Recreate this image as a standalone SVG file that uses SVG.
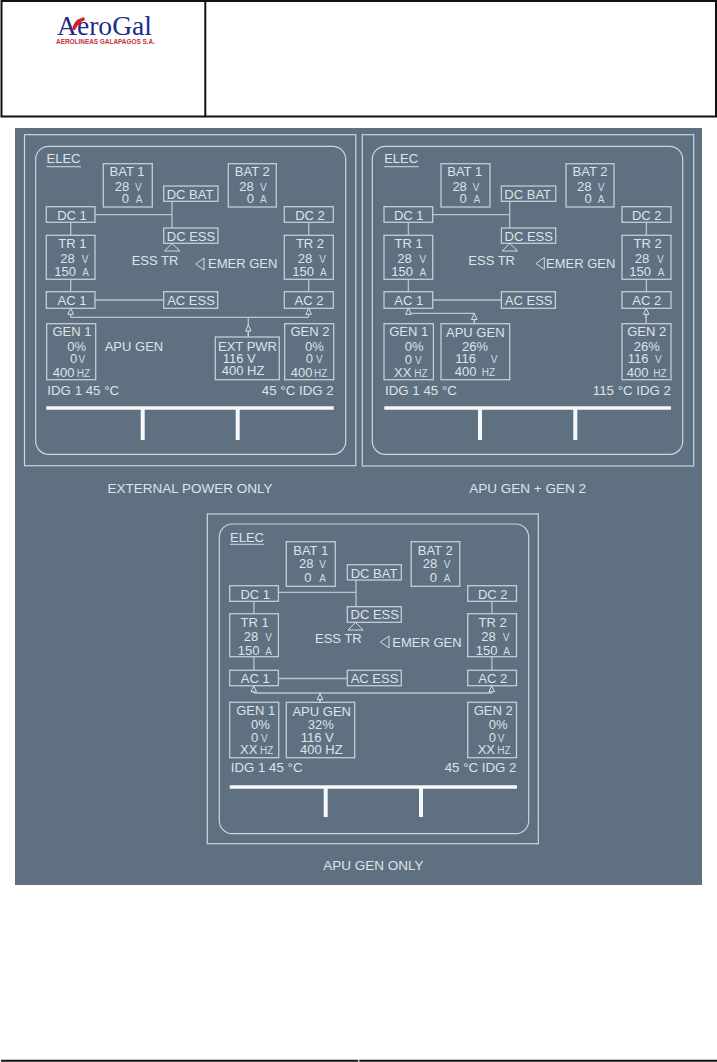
<svg xmlns="http://www.w3.org/2000/svg" width="717" height="1062" viewBox="0 0 717 1062">
<style>
text{font-family:"Liberation Sans",Arial,sans-serif;fill:#dde4e9;font-size:13px}
.m{text-anchor:middle}.e{text-anchor:end}.u{font-size:10px;fill:#d3dbe1}.i{font-size:13.3px}.cap{font-size:13.5px;text-anchor:middle}
.b{fill:none;stroke:#c3ced6;stroke-width:1.3}
.f{fill:none;stroke:#ccd6dd;stroke-width:1.2}
.c{fill:none;stroke:#b9c5cd;stroke-width:1.3}
.a{fill:none;stroke:#c3ced6;stroke-width:1.1;marker-end:url(#ah)}
.bus{stroke:#f6f8f9;stroke-width:3.6;fill:none}
.s{stroke:#f6f8f9;stroke-width:4;fill:none}
.tri{fill:none;stroke:#d3dbe1;stroke-width:1}
.h{stroke:#111;stroke-width:2;fill:none}
</style>
<defs>
<marker id="ah" markerUnits="userSpaceOnUse" markerWidth="8" markerHeight="8" refX="7" refY="4" viewBox="0 0 8 8" orient="auto"><path d="M1 1.2L7 4L1 6.8z" fill="#5f7080" stroke="#d8e0e6" stroke-width="1"/></marker>
</defs>
<rect width="717" height="1062" fill="#fff"/>
<g id="header">
<path class="h" d="M1.5 1H716V116.5H1.5z"/>
<path class="h" d="M205.3 1V116.5"/>
<g id="logo">
<text x="57" y="35" style="font-family:'Liberation Serif',serif;font-size:27.6px;fill:#1d2d8c">AeroGal</text>
<path d="M72 30C73 24 76 20 79 19L84 17L85 20L81 22L81 26L78 25L75 30z" fill="#d3202a"/>
<text x="56" y="43.5" textLength="99" lengthAdjust="spacingAndGlyphs" style="font-size:6.5px;font-weight:bold;fill:#c2303a">AEROLINEAS GALAPAGOS S.A.</text>
</g>
</g>
<rect id="background" x="15" y="128" width="687" height="757" fill="#5f7080"/>

<g id="panel1">
<rect class="f" x="24.5" y="134.7" width="331.3" height="331"/>
<rect class="f" x="35.7" y="146.3" width="310" height="308" rx="13"/>
<g id="p1-connectors">
<path class="c" d="M95 214.7H172M172 201.3V228M70.7 222.3V235.3M70.7 279.3V291.7M308.7 222.3V235.3M308.7 279.3V291.7M95 300H163.7M70.7 317.3H308.7M248.3 337V317.3"/>
<path class="a" d="M70.7 317.3V308.3"/><path class="a" d="M308.7 317.3V308.3"/><path class="a" d="M248.3 337V325"/>
</g>
<g id="p1-elec"><text x="46.5" y="163">ELEC</text><path class="c" d="M46.5 166.7H81"/></g>
<g id="p1-bat1"><rect class="b" x="103.3" y="163.7" width="49" height="43.3"/><text class="m" x="127" y="175.7">BAT 1</text><text x="114.7" y="191">28</text><text class="u" x="135" y="191">V</text><text x="121.7" y="203.3">0</text><text class="u" x="135.7" y="203.3">A</text></g>
<g id="p1-bat2"><rect class="b" x="228.3" y="163.7" width="48" height="43.3"/><text class="m" x="252.3" y="175.7">BAT 2</text><text x="239.3" y="191">28</text><text class="u" x="260" y="191">V</text><text x="246.7" y="203.3">0</text><text class="u" x="260" y="203.3">A</text></g>
<g id="p1-dcbat"><rect class="b" x="163.7" y="186" width="54.3" height="15.3"/><text class="m" x="190" y="199">DC BAT</text></g>
<g id="p1-dc1"><rect class="b" x="46.3" y="206.7" width="48.7" height="15.6"/><text class="m" x="72" y="220">DC 1</text></g>
<g id="p1-dc2"><rect class="b" x="284.3" y="206.7" width="49" height="15.6"/><text class="m" x="310" y="220">DC 2</text></g>
<g id="p1-dcess"><rect class="b" x="163.7" y="228" width="54.3" height="15.3"/><text class="m" x="191" y="240.7">DC ESS</text></g>
<g id="p1-tr1"><rect class="b" x="46.3" y="235.3" width="48.7" height="44"/><text class="m" x="72.3" y="248.3">TR 1</text><text x="60.3" y="263.3">28</text><text class="u" x="81.7" y="263.3">V</text><text x="54.3" y="276.3">150</text><text class="u" x="82.3" y="276.3">A</text></g>
<g id="p1-tr2"><rect class="b" x="284.3" y="235.3" width="49" height="44"/><text class="m" x="310" y="248.3">TR 2</text><text x="297.7" y="263.3">28</text><text class="u" x="319.3" y="263.3">V</text><text x="292.3" y="276.3">150</text><text class="u" x="320" y="276.3">A</text></g>
<g id="p1-esstr"><path class="tri" d="M172 243.5L180 251H164.5z"/><text x="131.7" y="265">ESS TR</text></g>
<g id="p1-emer"><path class="tri" d="M195.7 264L204 258V270z"/><text x="208" y="268">EMER GEN</text></g>
<g id="p1-ac1"><rect class="b" x="46.3" y="291.7" width="48.7" height="16.6"/><text class="m" x="72" y="305">AC 1</text></g>
<g id="p1-acess"><rect class="b" x="163.7" y="291.7" width="54" height="16.6"/><text class="m" x="191" y="305">AC ESS</text></g>
<g id="p1-ac2"><rect class="b" x="284.3" y="291.7" width="49" height="16.6"/><text class="m" x="309" y="305">AC 2</text></g>
<g id="p1-gen1"><rect class="b" x="46.7" y="323.7" width="49" height="56"/><text class="m" x="72" y="336">GEN 1</text><text x="67.3" y="350.7">0%</text><text x="70" y="362.7">0</text><text class="u" x="78.5" y="362.7">V</text><text x="52.7" y="376.7">400</text><text class="u" x="76.7" y="376.7">HZ</text></g>
<g id="p1-apugen"><text x="104.7" y="351">APU GEN</text></g>
<g id="p1-extpwr"><rect class="b" x="215.3" y="337" width="64" height="42.7"/><text x="218" y="351">EXT PWR</text><text x="222.7" y="362.7">116 V</text><text x="221.7" y="375.3">400 HZ</text></g>
<g id="p1-gen2"><rect class="b" x="284.7" y="323.7" width="49" height="56"/><text class="m" x="310" y="336">GEN 2</text><text x="305" y="350.7">0%</text><text x="305.7" y="362.7">0</text><text class="u" x="316" y="362.7">V</text><text x="290.7" y="376.7">400</text><text class="u" x="314" y="376.7">HZ</text></g>
<text class="i" x="47.3" y="395">IDG 1 45 °C</text>
<text class="i e" x="333.7" y="395">45 °C IDG 2</text>
<g id="p1-bus"><path class="bus" d="M46.3 408H333.7"/><path class="s" d="M142.7 408V440M237.7 408V440"/></g>
<text class="cap" x="190" y="493.3">EXTERNAL POWER ONLY</text>
</g>

<g id="panel2">
<rect class="f" x="362.3" y="134.7" width="331.4" height="331.3"/>
<rect class="f" x="372.3" y="146.3" width="310.4" height="308" rx="13"/>
<g transform="translate(337.7 0)">
<g id="p2-connectors">
<path class="c" d="M95 214.7H172M172 201.3V228M70.7 222.3V235.3M70.7 279.3V291.7M308.7 222.3V235.3M308.7 279.3V291.7M95 300H163.7M70.7 313.3H136.6M136.6 323.7V313.3M308.4 323.7V308.3"/>
<path class="a" d="M70.7 313.6V308.3"/><path class="a" d="M308.4 318V308.3"/><path class="a" d="M136.6 323.7V313.5"/>
</g>
<g id="p2-elec"><text x="46.5" y="163">ELEC</text><path class="c" d="M46.5 166.7H81"/></g>
<g id="p2-bat1"><rect class="b" x="103.3" y="163.7" width="49" height="43.3"/><text class="m" x="127" y="175.7">BAT 1</text><text x="114.7" y="191">28</text><text class="u" x="135" y="191">V</text><text x="121.7" y="203.3">0</text><text class="u" x="135.7" y="203.3">A</text></g>
<g id="p2-bat2"><rect class="b" x="228.3" y="163.7" width="48" height="43.3"/><text class="m" x="252.3" y="175.7">BAT 2</text><text x="239.3" y="191">28</text><text class="u" x="260" y="191">V</text><text x="246.7" y="203.3">0</text><text class="u" x="260" y="203.3">A</text></g>
<g id="p2-dcbat"><rect class="b" x="163.7" y="186" width="54.3" height="15.3"/><text class="m" x="190" y="199">DC BAT</text></g>
<g id="p2-dc1"><rect class="b" x="46.3" y="206.7" width="48.7" height="15.6"/><text class="m" x="71" y="220">DC 1</text></g>
<g id="p2-dc2"><rect class="b" x="284.3" y="206.7" width="49" height="15.6"/><text class="m" x="309" y="220">DC 2</text></g>
<g id="p2-dcess"><rect class="b" x="163.7" y="228" width="54.3" height="15.3"/><text class="m" x="191" y="240.7">DC ESS</text></g>
<g id="p2-tr1"><rect class="b" x="46.3" y="235.3" width="48.7" height="44"/><text class="m" x="71" y="248.3">TR 1</text><text x="59.5" y="263.3">28</text><text class="u" x="81.7" y="263.3">V</text><text x="53.5" y="276.3">150</text><text class="u" x="81.7" y="276.3">A</text></g>
<g id="p2-tr2"><rect class="b" x="284.3" y="235.3" width="49" height="44"/><text class="m" x="310" y="248.3">TR 2</text><text x="297" y="263.3">28</text><text class="u" x="319.3" y="263.3">V</text><text x="291.5" y="276.3">150</text><text class="u" x="320" y="276.3">A</text></g>
<g id="p2-esstr"><path class="tri" d="M172 243.5L180 251H164.5z"/><text x="130.6" y="265">ESS TR</text></g>
<g id="p2-emer"><path class="tri" d="M198.3 263.5L206.6 257.5V269.5z"/><text x="208.3" y="268">EMER GEN</text></g>
<g id="p2-ac1"><rect class="b" x="46.3" y="291.7" width="48.7" height="16.6"/><text class="m" x="71" y="305">AC 1</text></g>
<g id="p2-acess"><rect class="b" x="163.7" y="291.7" width="54" height="16.6"/><text class="m" x="191" y="305">AC ESS</text></g>
<g id="p2-ac2"><rect class="b" x="284.3" y="291.7" width="49" height="16.6"/><text class="m" x="309" y="305">AC 2</text></g>
<g id="p2-gen1"><rect class="b" x="46.3" y="323.7" width="49.4" height="56"/><text class="m" x="71" y="336">GEN 1</text><text x="67" y="350.7">0%</text><text x="67" y="363.7">0</text><text class="u" x="77.3" y="363.7">V</text><text x="56.3" y="376.7">XX</text><text class="u" x="76.6" y="376.7">HZ</text></g>
<g id="p2-apugen"><rect class="b" x="103.3" y="323.7" width="68.7" height="56"/><text class="m" x="137.6" y="336.7">APU GEN</text><text class="m" x="137.3" y="350.7">26%</text><text x="117.6" y="363.3">116</text><text class="u" x="153" y="363.3">V</text><text x="117" y="376">400</text><text class="u" x="144" y="376">HZ</text></g>
<g id="p2-gen2"><rect class="b" x="284.3" y="323.7" width="49" height="56"/><text class="m" x="309" y="336">GEN 2</text><text class="m" x="309" y="350.7">26%</text><text x="290" y="363.3">116</text><text class="u" x="317.3" y="363.3">V</text><text x="289" y="376.7">400</text><text class="u" x="315.6" y="376.7">HZ</text></g>
<text class="i" x="47.3" y="395">IDG 1 45 °C</text>
<text class="i e" x="333.3" y="395">115 °C IDG 2</text>
<g id="p2-bus"><path class="bus" d="M46.6 408H333.3"/><path class="s" d="M142.3 408V440M237.6 408V440"/></g>
<text class="cap" x="190" y="493.3">APU GEN + GEN 2</text>
</g>
</g>

<g id="panel3">
<rect class="f" x="207.3" y="514" width="331" height="329.7"/>
<rect class="f" x="219.3" y="524" width="309.4" height="309.7" rx="13"/>
<g transform="translate(183.2 378.5)">
<g id="p3-connectors">
<path class="c" d="M95 213.8H172.8M172.8 201.3V228M70.7 222.8V235.3M70.7 278.2V291.8M308.7 222.8V235.3M308.7 278.2V291.8M95 300H164.1M70.5 314.5H308.5M136.8 323.8V314.5"/>
<path class="a" d="M70.5 314.5V307.3"/><path class="a" d="M308.5 314.5V307.3"/><path class="a" d="M136.8 323.8V315"/>
</g>
<g id="p3-elec"><text x="46.8" y="163.2">ELEC</text><path class="c" d="M46.8 165.8H81"/></g>
<g id="p3-bat1"><rect class="b" x="103.1" y="163.2" width="49" height="44.6"/><text class="m" x="127.5" y="176.2">BAT 1</text><text x="115.8" y="189.8">28</text><text class="u" x="136" y="189.8">V</text><text x="121.1" y="203.5">0</text><text class="u" x="136" y="203.5">A</text></g>
<g id="p3-bat2"><rect class="b" x="228" y="163.2" width="48.6" height="44.6"/><text class="m" x="252" y="176.2">BAT 2</text><text x="239.5" y="189.8">28</text><text class="u" x="260.5" y="189.8">V</text><text x="246.5" y="203.5">0</text><text class="u" x="260.5" y="203.5">A</text></g>
<g id="p3-dcbat"><rect class="b" x="164.1" y="186.2" width="54" height="15.3"/><text class="m" x="190.8" y="199.5">DC BAT</text></g>
<g id="p3-dc1"><rect class="b" x="46.5" y="207.2" width="48.7" height="15.6"/><text class="m" x="72" y="220.5">DC 1</text></g>
<g id="p3-dc2"><rect class="b" x="284.5" y="207.2" width="48.8" height="15.6"/><text class="m" x="309.5" y="220.5">DC 2</text></g>
<g id="p3-dcess"><rect class="b" x="164.1" y="228.2" width="54" height="15.6"/><text class="m" x="191.5" y="240.2">DC ESS</text></g>
<g id="p3-tr1"><rect class="b" x="46.5" y="235.2" width="48.7" height="43"/><text class="m" x="71.5" y="248.5">TR 1</text><text x="60.5" y="262.5">28</text><text class="u" x="82" y="262.5">V</text><text x="54.5" y="276">150</text><text class="u" x="82" y="276">A</text></g>
<g id="p3-tr2"><rect class="b" x="284.5" y="235.2" width="48.8" height="43"/><text class="m" x="309.5" y="248.5">TR 2</text><text x="298" y="262.5">28</text><text class="u" x="319.5" y="262.5">V</text><text x="292.5" y="276">150</text><text class="u" x="320" y="276">A</text></g>
<g id="p3-esstr"><path class="tri" d="M172.3 244L180 251.5H164.8z"/><text x="131.8" y="264.8">ESS TR</text></g>
<g id="p3-emer"><path class="tri" d="M197.1 263.5L205.8 257.5V269.5z"/><text x="209.1" y="268.2">EMER GEN</text></g>
<g id="p3-ac1"><rect class="b" x="46.5" y="291.8" width="48.7" height="15.4"/><text class="m" x="72" y="304.5">AC 1</text></g>
<g id="p3-acess"><rect class="b" x="164.1" y="291.8" width="54" height="15.4"/><text class="m" x="191.3" y="304.5">AC ESS</text></g>
<g id="p3-ac2"><rect class="b" x="284.5" y="291.8" width="48.8" height="15.4"/><text class="m" x="309.5" y="304.5">AC 2</text></g>
<g id="p3-gen1"><rect class="b" x="46.5" y="323.8" width="49" height="55.4"/><text class="m" x="72.5" y="336.8">GEN 1</text><text x="67.8" y="350.8">0%</text><text x="67.8" y="363.8">0</text><text class="u" x="77.8" y="363.8">V</text><text x="56.8" y="375.5">XX</text><text class="u" x="76.8" y="375.5">HZ</text></g>
<g id="p3-apugen"><rect class="b" x="103.1" y="323.8" width="68.4" height="55.4"/><text class="m" x="138.5" y="337.2">APU GEN</text><text class="m" x="137.5" y="350.8">32%</text><text x="117.5" y="363.8">116 V</text><text x="116.8" y="375.5">400 HZ</text></g>
<g id="p3-gen2"><rect class="b" x="284.5" y="323.8" width="48.8" height="55.4"/><text class="m" x="310" y="336.8">GEN 2</text><text x="305.5" y="350.8">0%</text><text x="305.5" y="363.8">0</text><text class="u" x="314.5" y="363.8">V</text><text x="294.5" y="375.5">XX</text><text class="u" x="314" y="375.5">HZ</text></g>
<text class="i" x="47.5" y="393.5">IDG 1 45 °C</text>
<text class="i e" x="333.3" y="393.5">45 °C IDG 2</text>
<g id="p3-bus"><path class="bus" d="M46.5 408.5H333.8"/><path class="s" d="M142.5 408.5V438.5M237.8 408.5V438.5"/></g>
<text class="cap" x="190.1" y="491.8">APU GEN ONLY</text>
</g>
</g>

<g id="footer"><path class="h" d="M1 1060.7H358.3M359.3 1060.7H717"/></g>
</svg>
